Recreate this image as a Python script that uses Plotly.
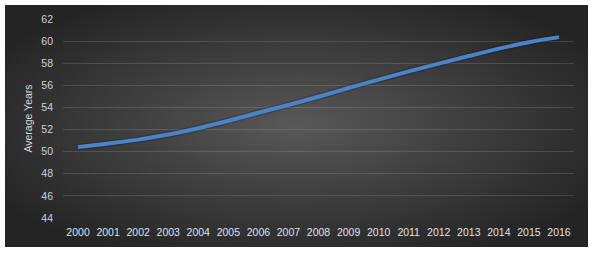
import plotly.graph_objects as go
import base64

years = [str(y) for y in range(2000, 2017)]
avg_years = [50.42, 50.73, 51.09, 51.55, 52.12, 52.80, 53.52, 54.22, 54.97,
             55.76, 56.52, 57.26, 57.96, 58.65, 59.32, 59.90, 60.36]
y_ticks = [44, 46, 48, 50, 52, 54, 56, 58, 60, 62]

W, H = 595, 255
ML, MR, MT, MB = 63, 21, 19, 37
PW, PH = W - ML - MR, H - MT - MB

# radial gradient background (styling asset only)
svg = ('<svg xmlns="http://www.w3.org/2000/svg" width="583" height="242" viewBox="0 0 583 242" preserveAspectRatio="none">'
       '<defs><radialGradient id="g" cx="50%" cy="50%" r="60%">'
       '<stop offset="0%" stop-color="#585858"/><stop offset="100%" stop-color="#242424"/>'
       '</radialGradient></defs><rect width="583" height="242" fill="url(#g)"/></svg>')
src = "data:image/svg+xml;base64," + base64.b64encode(svg.encode()).decode()

bx0, bx1, by0, by1 = 5, 588, 5, 247
fig = go.Figure()
fig.add_layout_image(dict(
    source=src, xref="paper", yref="paper",
    x=(bx0 - ML) / PW, y=1 + (MT - by0) / PH,
    sizex=(bx1 - bx0) / PW, sizey=(by1 - by0) / PH,
    xanchor="left", yanchor="top", sizing="stretch", layer="below"))

fig.add_trace(go.Scatter(x=years, y=avg_years, mode="lines",
                         line=dict(color="rgba(0,0,0,0.2)", width=6.5, shape="spline"),
                         hoverinfo="skip", showlegend=False))
fig.add_trace(go.Scatter(x=years, y=avg_years, mode="lines",
                         line=dict(color="#4a84c8", width=4, shape="spline"),
                         showlegend=False))

font = "Liberation Sans, Arial, sans-serif"
fig.update_layout(
    width=W, height=H,
    margin=dict(l=ML, r=MR, t=MT, b=MB, autoexpand=False),
    paper_bgcolor="white", plot_bgcolor="rgba(0,0,0,0)",
    font=dict(family=font, size=10, color="#d9d9d9"),
    xaxis=dict(type="category", range=[-0.5, 16.5], showgrid=False, zeroline=False,
               showline=False, ticks="", tickfont=dict(size=10.5, color="#dfe3ea"),
               ticklabelstandoff=6),
    yaxis=dict(range=[44, 62], tickvals=y_ticks, showgrid=True,
               gridcolor="rgba(255,255,255,0.13)", gridwidth=1, zeroline=False,
               showline=False, ticks="", tickfont=dict(size=10.5, color="#c9d2de"),
               ticklabelstandoff=9,
               title=dict(text="Average Years", font=dict(size=10.5, color="#d9d9d9"),
                          standoff=6)),
)
fig.write_html("out.html")
